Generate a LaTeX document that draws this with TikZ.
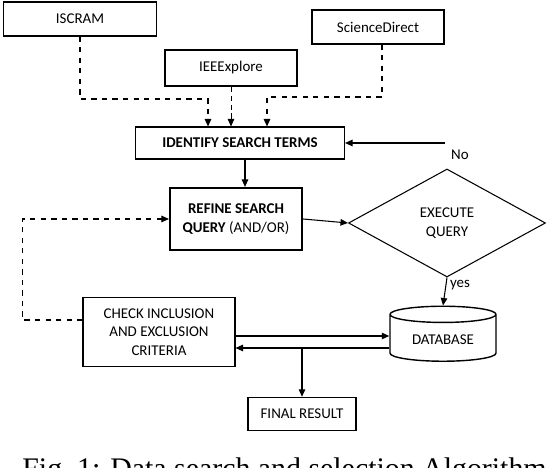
\documentclass[tikz,border=0pt]{standalone}
\usepackage{fontspec}
\setmainfont{Carlito}
\newfontfamily\captionfont{Liberation Serif}
\usetikzlibrary{arrows.meta,calc,positioning,shapes.geometric}
\tikzset{
  font=\fontsize{8.5}{10.5}\selectfont,
  arrow/.style={-{Triangle[length=1.5mm,width=1.3mm]}, draw=black, line width=0.6pt},
  dashArrow/.style={-{Triangle[length=1.5mm,width=1.3mm]}, draw=black, dashed, line width=0.8pt},
  thinDash/.style={-{Triangle[length=1.5mm,width=1.3mm]}, draw=black, dash pattern=on 3pt off 2pt, line width=0.5pt},
  source/.style={rectangle, draw=black, line width=0.6pt, fill=white, minimum width=3.06cm, minimum height=0.68cm, align=center},
  stage/.style={rectangle, draw=black, line width=0.6pt, fill=white, align=center},
  strongStage/.style={rectangle, draw=black, line width=1.2pt, fill=white, align=center},
  decision/.style={diamond, draw=black, line width=0.6pt, fill=white, aspect=1.82, minimum width=3.94cm, minimum height=2.16cm, inner sep=0pt, align=center},
  store/.style={cylinder, shape border rotate=90, aspect=0.22, draw=black, line width=0.8pt, fill=white, minimum width=2.12cm, minimum height=1.1cm, align=center},
  flowLabel/.style={font=\fontsize{8.5}{10.5}\selectfont, inner sep=1pt}
}

\begin{document}
\begin{tikzpicture}[x=1cm,y=1cm]
\useasboundingbox (0,0) rectangle (10.96,9.36);

% --------------------------------------------------------------------------
% Sources
% --------------------------------------------------------------------------
\node[source] (iscram) at (1.60,8.98) {ISCRAM};
\node[source, minimum width=2.64cm] (sciDirect) at (7.56,8.82) {ScienceDirect};
\node[strongStage, minimum width=2.64cm, minimum height=0.72cm] (ieee) at (4.62,8.00) {IEEExplore};

% --------------------------------------------------------------------------
% Search and selection flow
% --------------------------------------------------------------------------
\node[stage, minimum width=4.18cm, minimum height=0.64cm, font=\fontsize{8.5}{10.5}\selectfont\bfseries] (identify) at (4.80,6.50) {IDENTIFY SEARCH TERMS};
\node[strongStage, minimum width=2.64cm, minimum height=1.24cm] (refine) at (4.72,4.98) {\textbf{REFINE SEARCH}\\\textbf{QUERY} (AND/OR)};
\node[decision] (execute) at (8.94,4.90) {EXECUTE\\QUERY};
\node[stage, minimum width=3.04cm, minimum height=1.38cm] (check) at (3.18,2.72) {CHECK INCLUSION\\AND EXCLUSION\\CRITERIA};
\node[store] (db) at (8.86,2.56) {DATABASE};
\node[stage, line width=0.8pt, minimum width=2.16cm, minimum height=0.66cm] (final) at (6.04,1.08) {FINAL RESULT};

% sources into search terms
\coordinate (iscramElbow) at (4.16,7.38);
\draw[dashArrow] (iscram.south) |- (iscramElbow) -- (iscramElbow |- identify.north);
\draw[thinDash] (ieee.south) -- (ieee.south |- identify.north);
\coordinate (sciElbow) at (5.34,7.42);
\draw[dashArrow] ([xshift=0.08cm]sciDirect.south) |- (sciElbow) -- (sciElbow |- identify.north);

% main loop
\coordinate (noStart) at (8.90,6.50);
\draw[arrow] (noStart) -- (identify.east);
\node[flowLabel] at (9.20,6.26) {No};
\draw[arrow] ([xshift=0.1cm]identify.south) -- ([xshift=0.1cm]identify.south |- refine.north);
\draw[arrow] (refine.east) -- (execute.west);
\draw[arrow] (execute.south) -- (db.north);
\node[flowLabel] at (9.20,3.66) {yes};

% feedback to the query
\draw[dashArrow, line width=0.6pt] ([yshift=0.24cm]check.west) -- ++(-1.2,0) |- (refine.west);

% database exchange
\coordinate (dbSend) at ([yshift=-0.08cm]check.east);
\coordinate (dbReturn) at ([yshift=-0.32cm]check.east);
\draw[arrow] (dbSend) -- (dbSend -| db.west);
\draw[arrow] (dbReturn -| db.west) -- (dbReturn);
\draw[arrow] (final.north |- dbReturn) -- (final.north);

% caption
\node[font=\captionfont\fontsize{17}{20}\selectfont, anchor=base] (caption) at (5.69,-0.22) {Fig.~1: Data search and selection Algorithm};

\end{tikzpicture}
\end{document}
